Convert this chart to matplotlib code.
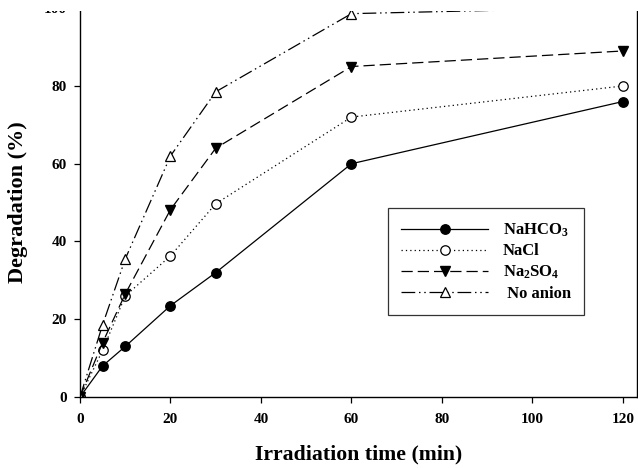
import matplotlib
matplotlib.use("Agg")
import matplotlib.pyplot as plt
from matplotlib.patches import Rectangle

plt.rcParams["font.family"] = ["Liberation Serif", "DejaVu Serif"]
plt.rcParams["font.weight"] = "bold"
plt.rcParams["mathtext.fontset"] = "custom"
plt.rcParams["mathtext.rm"] = "Liberation Serif:bold"
plt.rcParams["mathtext.bf"] = "Liberation Serif:bold"
plt.rcParams["mathtext.default"] = "rm"

# data
time_min = [0, 5, 10, 20, 30, 60, 120]
nahco3 = [0, 8, 13, 23.5, 32, 60, 76]
nacl = [0, 12, 26, 36.3, 49.7, 72, 80]
na2so4 = [0, 14, 26.5, 48.2, 64, 85, 89]
no_anion = [0, 18.6, 35.5, 62, 78.5, 98.6, 100.2]

labels = ["NaHCO$_3$", "NaCl", "Na$_2$SO$_4$", " No anion"]
x_ticks = [0, 20, 40, 60, 80, 100, 120]
y_ticks = [0, 20, 40, 60, 80, 100]

fig = plt.figure(figsize=(6.38, 4.68), dpi=100)
ax = fig.add_axes([80 / 638, 1 - 397 / 468, 557 / 638, (397 - 8.2) / 468])

ms = 6.8
lw = 0.9
ax.plot(time_min, nahco3, color="black", lw=lw, ls="-", marker="o",
        ms=ms, mfc="black", mec="black", label=labels[0])
ax.plot(time_min, nacl, color="black", lw=lw, ls=(0, (1, 2.5)), marker="o",
        ms=ms, mfc="white", mec="black", mew=0.9, label=labels[1])
ax.plot(time_min, na2so4, color="black", lw=lw, ls=(0, (9, 4)), marker="v",
        ms=ms + 0.5, mfc="black", mec="black", label=labels[2])
# last point is off scale in the source, so it has no marker
ax.plot(time_min, no_anion, color="black", lw=lw,
        ls=(0, (11, 3, 1.2, 3, 1.2, 3)), marker="^",
        ms=ms + 0.5, mfc="white", mec="black", mew=0.9,
        markevery=list(range(len(time_min) - 1)), label=labels[3])

ax.set_xlim(0, 123.1)
ax.set_ylim(0, 100)
ax.set_xticks(x_ticks)
ax.set_yticks(y_ticks)
ax.tick_params(direction="out", length=4.5, width=0.9, labelsize=11)
ax.tick_params(axis="x", pad=7)
ax.tick_params(axis="y", pad=5)
for lab in ax.get_xticklabels() + ax.get_yticklabels():
    lab.set_fontweight("bold")
for s in ax.spines.values():
    s.set_linewidth(1.0)
ax.spines["top"].set_visible(False)

ax.set_xlabel("Irradiation time (min)", fontsize=15.7, fontweight="bold", labelpad=13)
ax.set_ylabel("Degradation (%)", fontsize=16, fontweight="bold", labelpad=11.5)

leg = ax.legend(loc="upper left", bbox_to_anchor=(308 / 557, (397 - 208) / 388.8),
                frameon=True, fancybox=False, edgecolor="black",
                prop={"size": 12, "weight": "bold"}, handlelength=5.2,
                handletextpad=0.9, labelspacing=0.28, borderpad=0.8,
                borderaxespad=0)
leg.get_frame().set_linewidth(0.9)

# top of the source picture is cut off
fig.add_artist(Rectangle((0, 1 - 11 / 468), 1, 11 / 468, transform=fig.transFigure,
                         facecolor="white", edgecolor="none", zorder=10))

fig.savefig("out.png", dpi=100)
